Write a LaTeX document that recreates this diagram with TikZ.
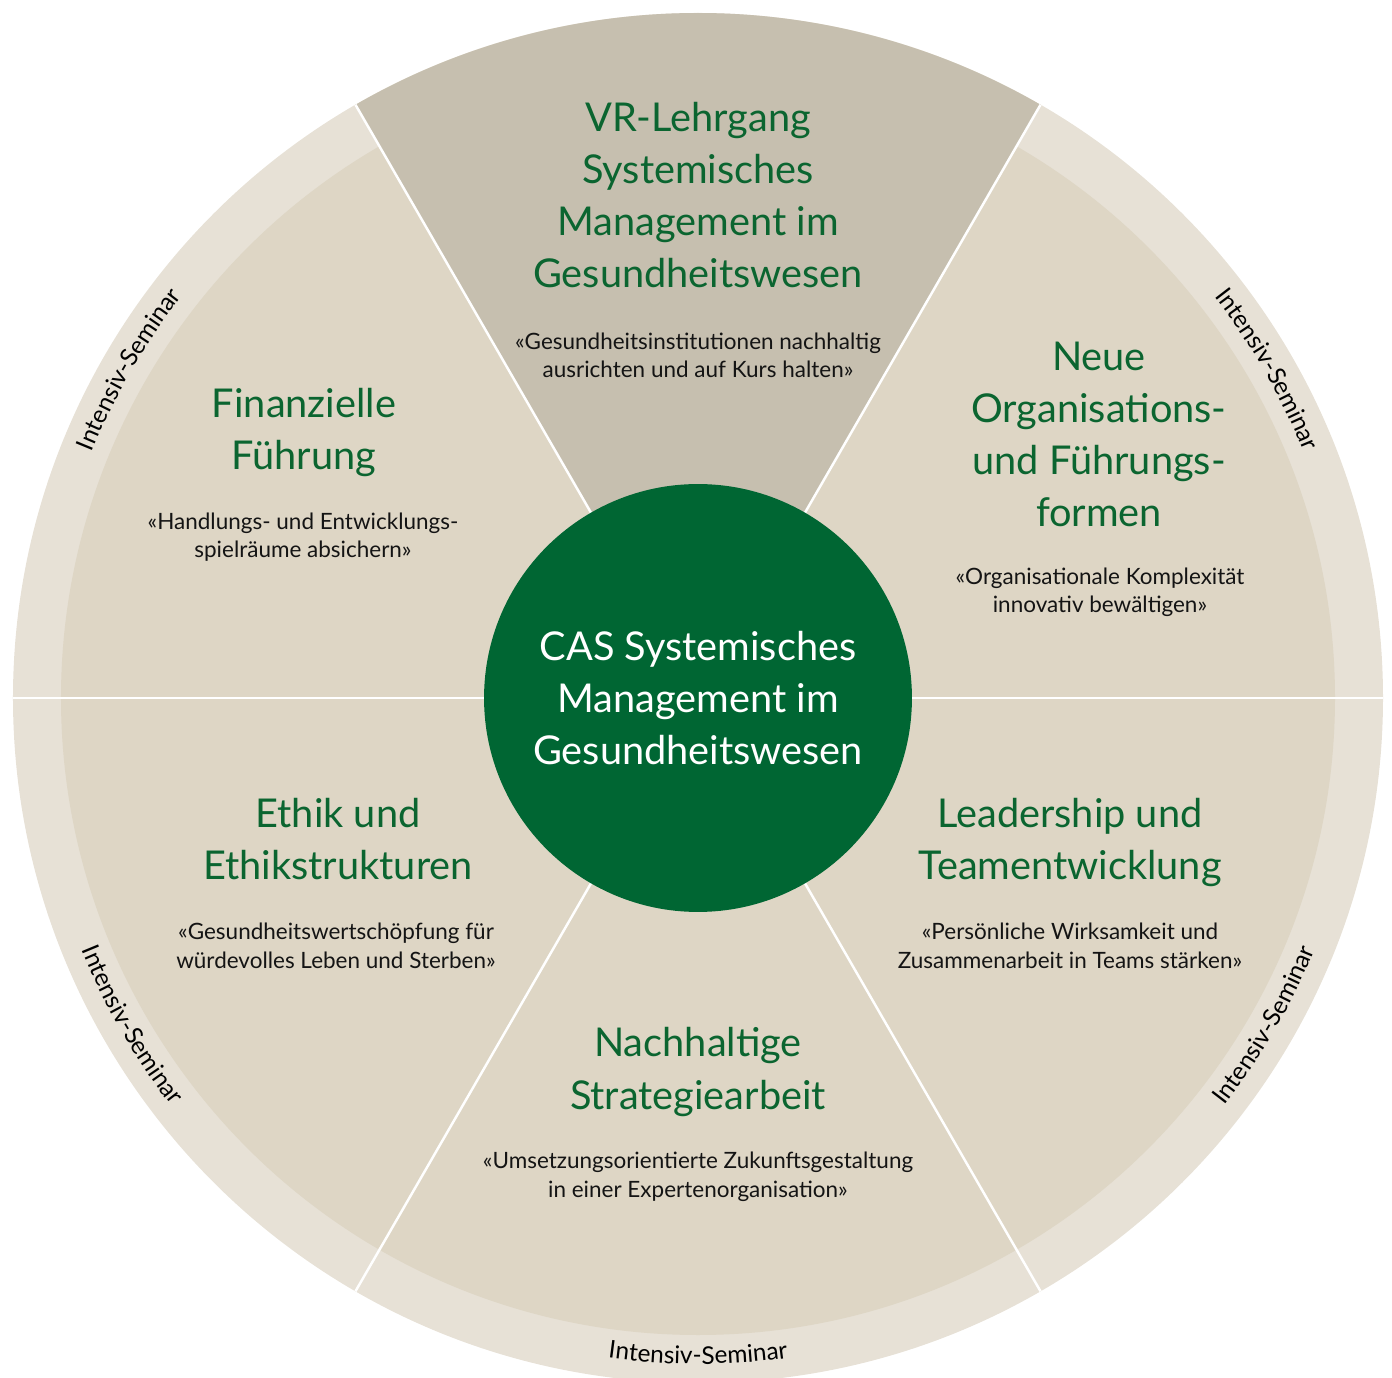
\documentclass[tikz,border=0pt]{standalone}
\usepackage{fontspec}
\setmainfont{Lato}
\usepackage{tikz}
\usetikzlibrary{decorations.text}

\definecolor{ringbeige}{HTML}{E7E1D6}
\definecolor{wedgebeige}{HTML}{DED6C5}
\definecolor{topbeige}{HTML}{C6BFAF}
\definecolor{hubgreen}{HTML}{006633}
\definecolor{titlegreen}{HTML}{0B6530}

\newcommand\titlesize{\fontsize{22.6}{29.6}\selectfont}
\newcommand\mottosize{\fontsize{12.8}{16.2}\selectfont}
\newcommand\ringsize{\fontsize{13.9}{15}\selectfont}

\begin{document}
\begin{tikzpicture}[x=0.02cm,y=0.02cm,
                    divider/.style={draw=white,line width=1.4pt},
                    title/.style={align=center,anchor=base,inner sep=0pt,text=titlegreen,font=\titlesize},
                    motto/.style={align=center,anchor=base,inner sep=0pt,text=black!92,font=\mottosize},
                    seminar/.style={decorate,decoration={text along path,text align=center,
                                    text={|\ringsize|Intensiv-Seminar}}}]
  \tikzstyle{hub}=[circle,fill=hubgreen,minimum size=8.56cm,inner sep=0pt,
                   align=center,text=white,font=\titlesize]

  \useasboundingbox (-698,-680) rectangle (694,698);

  % wheel
  \fill[ringbeige] (0,0) circle (685);
  \fill[wedgebeige] (0,0) circle (637);
  \fill[topbeige] (0,0) -- (60:685) arc[start angle=60,end angle=120,radius=685] -- cycle;
  \foreach \a in {0,60,...,300}
    \draw[divider] (0,0) -- (\a:685);

  \node[hub] (cas) at (0,0) {CAS Systemisches\\Management im\\Gesundheitswesen};

  % base = last line
  \node[title] (vr)       at (0,410)     {VR-Lehrgang\\Systemisches\\Management im\\Gesundheitswesen};
  \node[motto] (vrmotto)  at (0,320)     {«Gesundheitsinstitutionen nachhaltig\\ausrichten und auf Kurs halten»};

  \node[title] (finance)      at (-394,228) {Finanzielle\\Führung};
  \node[motto] (financemotto) at (-395,140) {«Handlungs- und Entwicklungs-\\spielräume absichern»};

  \node[title] (orga)      at (401,171) {Neue\\Organisations-\\und Führungs-\\formen};
  \node[motto] (orgamotto) at (402,85)  {«Organisationale Komplexität\\innovativ bewältigen»};

  \node[title] (ethics)      at (-360,-182) {Ethik und\\Ethikstrukturen};
  \node[motto] (ethicsmotto) at (-362,-270) {«Gesundheitswertschöpfung für\\würdevolles Leben und Sterben»};

  \node[title] (lead)      at (372,-182) {Leadership und\\Teamentwicklung};
  \node[motto] (leadmotto) at (372,-270) {«Persönliche Wirksamkeit und\\Zusammenarbeit in Teams stärken»};

  \node[title] (strategy)      at (0,-411) {Nachhaltige\\Strategiearbeit};
  \node[motto] (strategymotto) at (0,-499) {«Umsetzungsorientierte Zukunftsgestaltung\\in einer Expertenorganisation»};

  % ring labels
  \path[seminar] (170:654) arc[start angle=170,end angle=130,radius=654];
  \path[seminar] (50:654) arc[start angle=50,end angle=10,radius=654];
  \path[seminar] (190:666) arc[start angle=190,end angle=230,radius=666];
  \path[seminar] (310:666) arc[start angle=310,end angle=350,radius=666];
  \path[seminar] (250:666) arc[start angle=250,end angle=290,radius=666];
\end{tikzpicture}
\end{document}
